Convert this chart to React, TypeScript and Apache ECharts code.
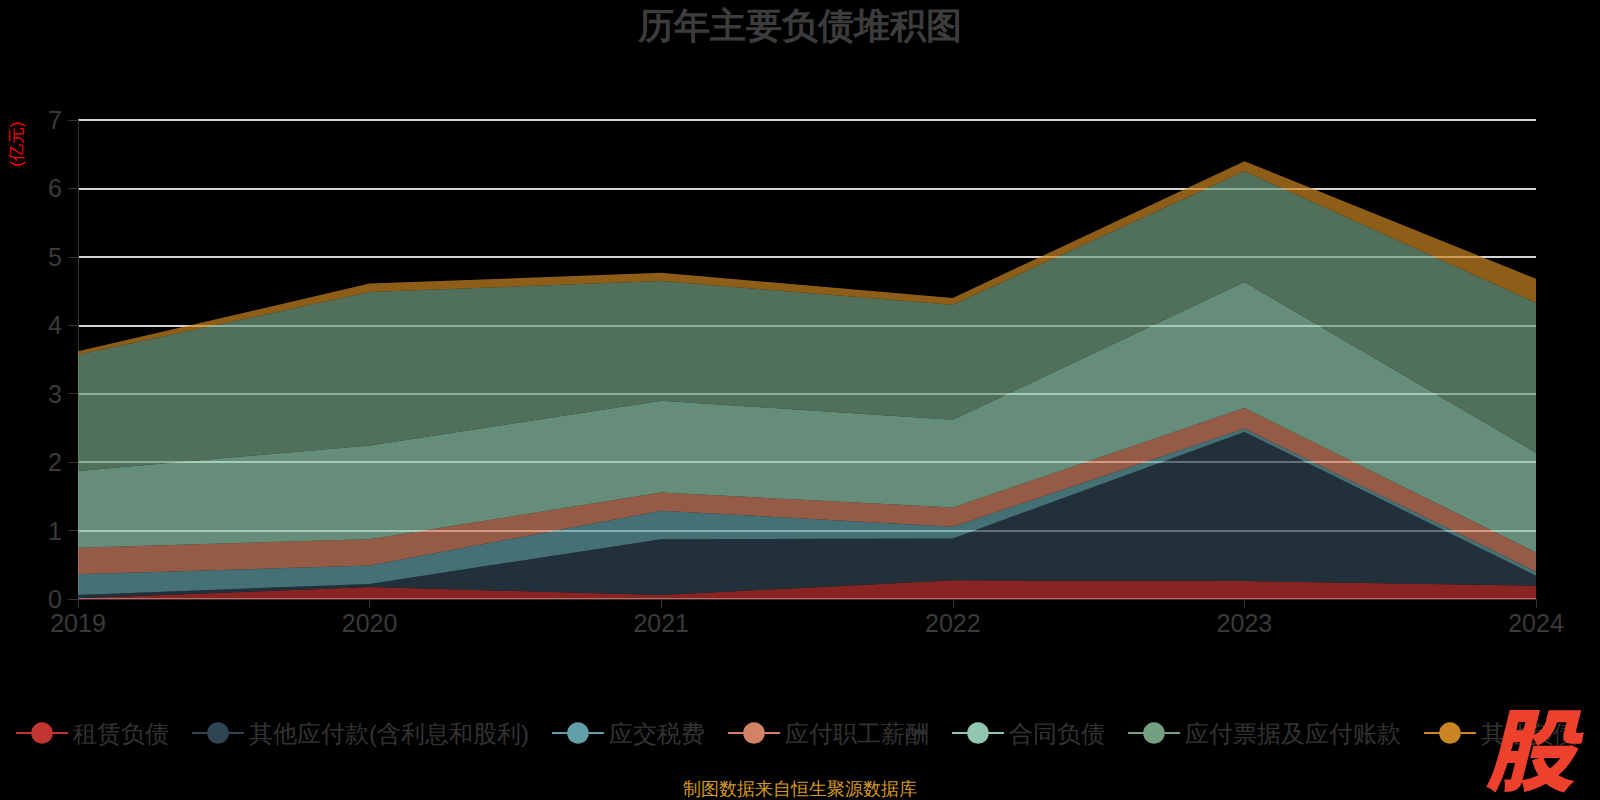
import React, { useEffect, useRef } from "react";
import * as echarts from "echarts";

const years = ["2019", "2020", "2021", "2022", "2023", "2024"];
const seriesNames = [
  "租赁负债",
  "其他应付款(含利息和股利)",
  "应交税费",
  "应付职工薪酬",
  "合同负债",
  "应付票据及应付账款",
  "其他负债",
];
const leaseLiab = [0.01, 0.175, 0.058, 0.273, 0.262, 0.195];
const otherPayables = [0.05, 0.045, 0.817, 0.612, 2.18, 0.146];
const taxesPayable = [0.3, 0.27, 0.415, 0.171, 0.05, 0.058];
const payroll = [0.39, 0.385, 0.266, 0.281, 0.3, 0.28];
const contractLiab = [1.12, 1.37, 1.34, 1.283, 1.84, 1.46];
const notesPayable = [1.7, 2.24, 1.75, 1.68, 1.62, 2.19];
const otherLiab = [0.05, 0.125, 0.12, 0.1, 0.146, 0.35];
const yTicks = [0, 1, 2, 3, 4, 5, 6, 7];

const palette = ["#c23531", "#2f4554", "#61a0a8", "#d48265", "#91c7ae", "#749f83", "#ca8622"];

export default function App() {
  const ref = useRef<HTMLDivElement>(null);
  useEffect(() => {
    document.body.style.margin = "0";
    document.body.style.background = "#000";
    const chart = echarts.init(ref.current!, null, { renderer: "svg" });
    const values = [leaseLiab, otherPayables, taxesPayable, payroll, contractLiab, notesPayable, otherLiab];
    chart.setOption({
      animation: false,
      backgroundColor: "#000",
      color: palette,
      title: {
        text: "历年主要负债堆积图",
        left: "center",
        top: 2,
        textStyle: { color: "#3c3c3c", fontSize: 36, fontWeight: "bold" },
      },
      grid: { left: 78, right: 64, top: 120, bottom: 201, containLabel: false },
      legend: {
        left: 10,
        top: 716,
        width: 1800,
        itemWidth: 52,
        itemHeight: 27,
        itemGap: 22,
        textStyle: { color: "#333", fontSize: 24 },
        lineStyle: { width: 2, opacity: 1 },
        data: seriesNames,
      },
      xAxis: {
        type: "category",
        data: years,
        boundaryGap: false,
        axisLine: { lineStyle: { color: "#333", width: 1 } },
        axisTick: { show: true, length: 9, lineStyle: { color: "#333" } },
        axisLabel: { color: "#3a3a3a", fontSize: 25, margin: 11 },
        splitLine: { show: false },
      },
      yAxis: {
        type: "value",
        min: yTicks[0],
        max: yTicks[yTicks.length - 1],
        interval: 1,
        axisLine: { show: true, lineStyle: { color: "#333", width: 1 } },
        axisTick: { show: true, length: 10, lineStyle: { color: "#333" } },
        axisLabel: { color: "#3a3a3a", fontSize: 25, margin: 16 },
        splitLine: { show: true, lineStyle: { color: "#d4d4d4", width: 2 } },
      },
      graphic: [
        {
          type: "text",
          x: 16,
          y: 144,
          rotation: Math.PI / 2,
          style: {
            text: "(亿元)",
            fill: "#ff0000",
            fontSize: 17,
            align: "center",
            verticalAlign: "middle",
          },
        },
        {
          type: "text",
          x: 800,
          y: 789,
          style: {
            text: "制图数据来自恒生聚源数据库",
            fill: "#d49a1e",
            fontSize: 18,
            align: "center",
            verticalAlign: "middle",
          },
        },
        {
          type: "text",
          x: 1530,
          y: 745,
          z: 100,
          style: {
            text: "股",
            fill: "#ee412d",
            fontSize: 90,
            fontWeight: 900,
            fontStyle: "italic",
            fontFamily: "Noto Sans CJK SC",
            align: "center",
            verticalAlign: "middle",
          },
        },
      ],
      series: seriesNames.map((name, i) => ({
        name,
        type: "line",
        stack: "total",
        data: values[i],
        symbol: "circle",
        showSymbol: false,
        lineStyle: { width: 0 },
        areaStyle: { opacity: 0.7 },
      })),
    });
    return () => chart.dispose();
  }, []);
  return (
    <div
      ref={ref}
      style={{ position: "absolute", left: 0, top: 0, width: 1600, height: 800 }}
    />
  );
}
